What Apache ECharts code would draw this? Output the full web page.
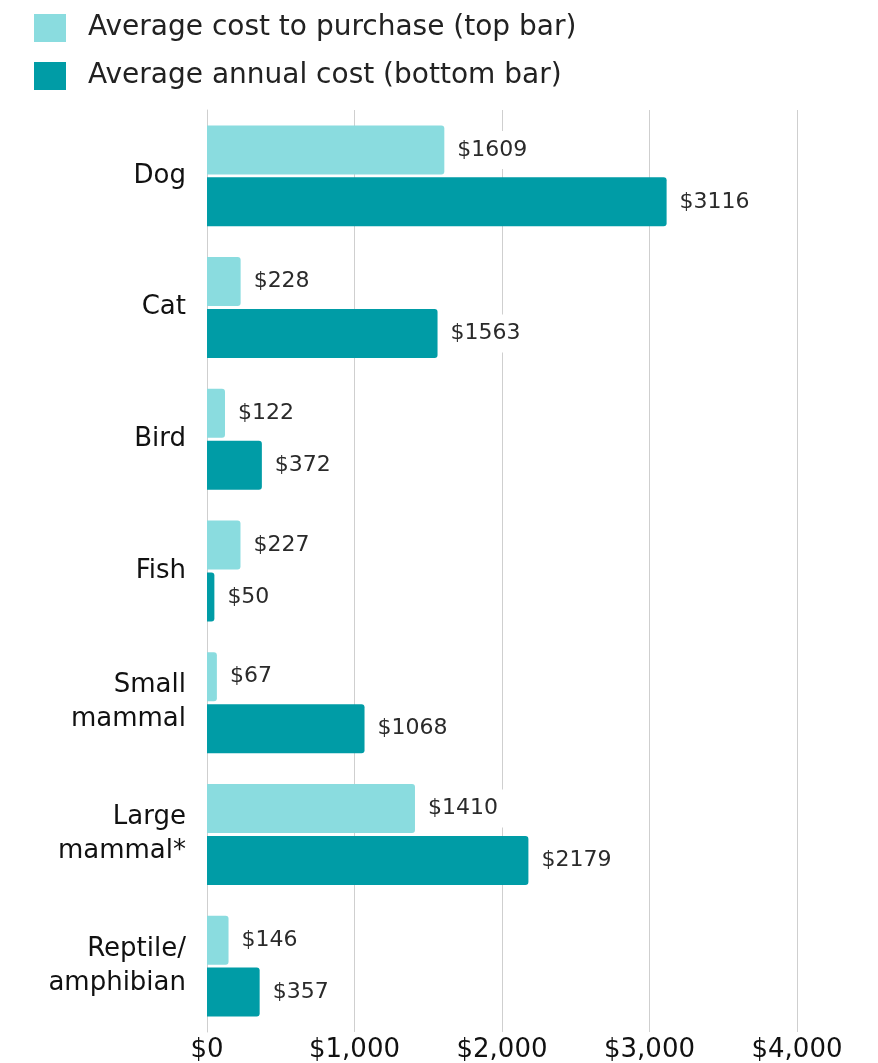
<!DOCTYPE html>
<html>
<head>
<meta charset="utf-8">
<script src="https://cdn.jsdelivr.net/npm/echarts@6/dist/echarts.min.js"></script>
<style>
html,body{margin:0;padding:0;background:#fff;overflow:hidden;}
#chart{width:878px;height:1063px;}
</style>
</head>
<body>
<div id="chart"></div>
<script>
const categories = ['Dog', 'Cat', 'Bird', 'Fish', 'Small\nmammal', 'Large\nmammal*', 'Reptile/\namphibian'];
const purchaseCost = [1609, 228, 122, 227, 67, 1410, 146];
const annualCost = [3116, 1563, 372, 50, 1068, 2179, 357];
const seriesNames = ['Average cost to purchase (top bar)', 'Average annual cost (bottom bar)'];
const xTicks = [0, 1000, 2000, 3000, 4000];

const FONT = '"DejaVu Sans", sans-serif';
const chart = echarts.init(document.getElementById('chart'));

function valueLabel() {
  return {
    show: true,
    position: 'right',
    distance: 3,
    formatter: p => '$' + p.value,
    color: '#2a2a2a',
    fontFamily: FONT,
    fontSize: 22,
    backgroundColor: '#fff',
    padding: [8, 10]
  };
}

chart.setOption({
  animation: false,
  color: ['#8ADCDF', '#009CA6'],
  legend: {
    orient: 'vertical',
    left: 34,
    top: 14,
    padding: 0,
    itemWidth: 32,
    itemHeight: 28,
    itemGap: 20,
    icon: 'rect',
    textStyle: { fontFamily: FONT, fontSize: 28, color: '#222', padding: [0, 0, 0, 17] },
    data: seriesNames
  },
  grid: { left: 207, right: 81, top: 110, bottom: 21, containLabel: false },
  xAxis: {
    type: 'value',
    min: xTicks[0],
    max: xTicks[xTicks.length - 1],
    interval: 1000,
    axisLine: { show: false },
    axisTick: { show: false },
    splitLine: { show: true, lineStyle: { color: '#cfcfcf', width: 1 } },
    axisLabel: {
      fontFamily: FONT, fontSize: 26, color: '#111', margin: 5,
      formatter: v => '$' + v.toLocaleString('en-US')
    }
  },
  yAxis: {
    type: 'category',
    inverse: true,
    data: categories,
    axisLine: { show: true, lineStyle: { color: '#cfcfcf', width: 1 } },
    axisTick: { show: false },
    axisLabel: {
      fontFamily: FONT, fontSize: 26, color: '#111', margin: 21, lineHeight: 34, align: 'right'
    }
  },
  series: [
    {
      name: seriesNames[0],
      type: 'bar',
      data: purchaseCost,
      barWidth: 49,
      barGap: '6%',
      itemStyle: { borderRadius: [0, 3, 3, 0] },
      label: valueLabel()
    },
    {
      name: seriesNames[1],
      type: 'bar',
      data: annualCost,
      barWidth: 49,
      barGap: '6%',
      itemStyle: { borderRadius: [0, 3, 3, 0] },
      label: valueLabel()
    }
  ]
});
</script>
</body>
</html>
